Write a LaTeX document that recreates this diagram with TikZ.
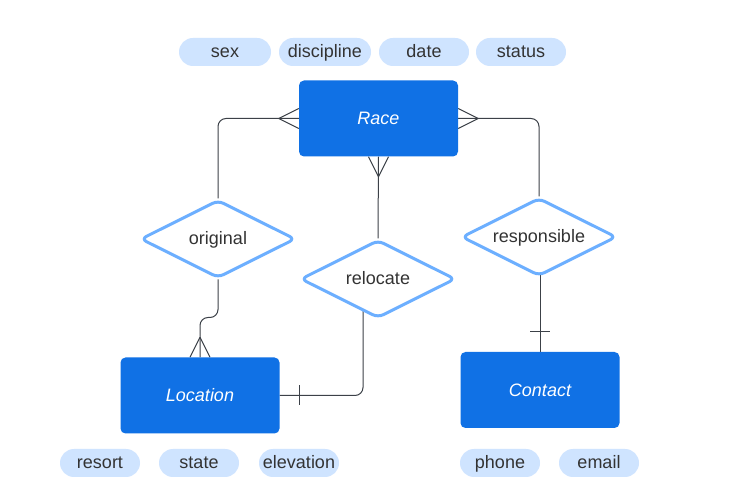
\documentclass[tikz,border=0pt]{standalone}
\usepackage{fontspec}
\setmainfont{Liberation Sans}
\usetikzlibrary{shapes.geometric,calc,backgrounds}
\definecolor{ent}{HTML}{1071E5}
\definecolor{dia}{HTML}{6CAFFF}
\definecolor{pill}{HTML}{CFE4FF}
\definecolor{lc}{HTML}{3C4148}
\definecolor{txt}{HTML}{333333}
\begin{document}
\begin{tikzpicture}[x=1pt,y=-1pt,
  font=\fontsize{18}{21}\selectfont,
  entity/.style={rectangle, rounded corners=5pt, fill=ent, minimum width=159pt, minimum height=76pt, inner sep=0pt, text=white, font=\fontsize{18}{21}\selectfont\itshape},
  rel/.style={diamond, shape aspect=2, draw=dia, line width=3pt, fill=white, rounded corners=6pt, minimum width=155pt, minimum height=78pt, inner sep=0pt, text=txt, text height=14pt, text depth=3pt},
  attr/.style={rectangle, rounded corners=14pt, fill=pill, minimum width=90pt, minimum height=28pt, inner sep=0pt, text=txt, text height=14pt, text depth=3pt},
  conn/.style={draw=lc, line width=1pt}]
\path[use as bounding box] (0,0) rectangle (729,502);

\node[entity] (race) at (378.5,118.5) {Race};
\node[entity] (location) at (200,395.5) {Location};
\node[entity] (contact) at (540,390) {Contact};

\node[rel] (original) at (218,239) {original};
\node[rel] (relocate) at (378,279) {relocate};
\node[rel] (responsible) at (539,237) {responsible};

\node[attr, minimum width=92pt] (sex) at (225,52) {sex};
\node[attr, minimum width=92pt] (discipline) at (325,52) {discipline};
\node[attr] (date) at (424,52) {date};
\node[attr] (status) at (521,52) {status};

\node[attr, minimum width=80pt] (resort) at (100,463) {resort};
\node[attr, minimum width=80pt] (state) at (199,463) {state};
\node[attr, minimum width=80pt] (elevation) at (299,463) {elevation};
\node[attr, minimum width=80pt] (phone) at (500,463) {phone};
\node[attr, minimum width=80pt] (email) at (599,463) {email};

\begin{pgfonlayer}{background}
\fill[white] (0,0) rectangle (729,502);
% Race - original
\draw[conn, rounded corners=8pt] (race.west) -| (original.north);
\draw[conn] ($(race.west)+(-20,0)$) -- ($(race.west)+(0,-10)$)
            ($(race.west)+(-20,0)$) -- ($(race.west)+(0,10)$);
% Race - relocate
\draw[conn] (race.south) -- (relocate.north);
\draw[conn] ($(race.south)+(0,20)$) -- ($(race.south)+(-10,0)$)
            ($(race.south)+(0,20)$) -- ($(race.south)+(10,0)$);
% Race - responsible
\draw[conn, rounded corners=8pt] (race.east) -| (responsible.north);
\draw[conn] ($(race.east)+(20,0)$) -- ($(race.east)+(0,-10)$)
            ($(race.east)+(20,0)$) -- ($(race.east)+(0,10)$);
% original - location
\draw[conn, rounded corners=8pt] (original.south) -- ++(0,38) -| (location.north);
\draw[conn] ($(location.north)+(0,-20)$) -- ($(location.north)+(-10,0)$)
            ($(location.north)+(0,-20)$) -- ($(location.north)+(10,0)$);
% relocate - location
\draw[conn, rounded corners=8pt] ($(relocate.center)+(-15,0)$) |- (location.east);
\draw[conn] ($(location.east)+(20,-10)$) -- ($(location.east)+(20,10)$);
% responsible - contact
\draw[conn] (contact.north |- responsible.center) -- (contact.north);
\draw[conn] ($(contact.north)+(-10,-20)$) -- ($(contact.north)+(10,-20)$);
\end{pgfonlayer}
\end{tikzpicture}
\end{document}
